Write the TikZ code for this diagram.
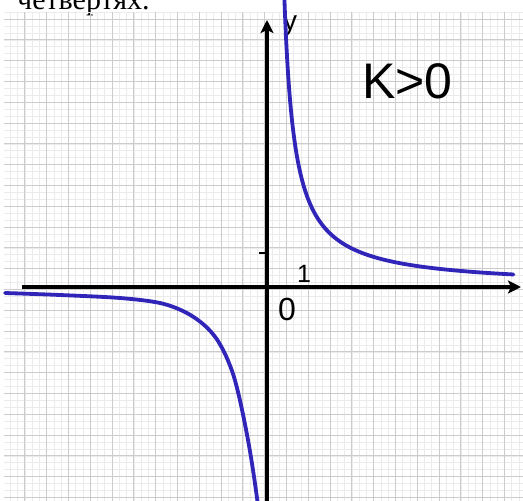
\documentclass[tikz,border=0pt]{standalone}
\usepackage{fontspec}
\setmainfont{Liberation Serif}
\newfontfamily\arialf{Liberation Sans}
\usetikzlibrary{arrows.meta}
\definecolor{curveblue}{RGB}{48,36,185}
\begin{document}
\begin{tikzpicture}[x=1pt,y=-1pt,
  axis/.style={line width=3.5pt, -{Stealth[length=13pt,width=13pt,inset=3pt]}},
  hyp/.style={curveblue, line width=3.8pt, line cap=round},
  minorgrid/.style={black!8, line width=0.6pt},
  majorgrid/.style={black!20, line width=1pt},
  lab/.style={font=\arialf, inner sep=0pt}]
\useasboundingbox (0,0) rectangle (523,501);
\clip (0,0) rectangle (523,501);
\fill[white] (0,0) rectangle (523,501);
\node[anchor=base west, inner sep=0pt, font=\fontsize{30}{30}\selectfont] (title) at (17,9) {четвертях.};
% grid
\begin{scope}
  \clip (4,12) rectangle (523,501);
  \foreach \i in {0,...,72} { \draw[minorgrid] ({3+\i*21.8/3},12) -- ({3+\i*21.8/3},501); }
  \foreach \j in {-1,...,71} { \draw[minorgrid] (4,{19+\j*20.8/3}) -- (523,{19+\j*20.8/3}); }
  \foreach \i in {0,...,24} { \draw[majorgrid] ({3+\i*21.8},12) -- ({3+\i*21.8},501); }
  \foreach \j in {0,...,23} { \draw[majorgrid] (4,{19+\j*20.8}) -- (523,{19+\j*20.8}); }
\end{scope}
% axes
\coordinate (xs) at (22,287);
\coordinate (xe) at (521,287);
\coordinate (ys) at (267,512);
\coordinate (ye) at (267,20);
\draw[axis] (xs) -- (xe);
\draw[axis] (ys) -- (ye);
\coordinate (t1) at (259,253);
\coordinate (t2) at (267,253);
\draw[line width=1.2pt] (t1) -- (t2);
% labels
\node[lab, anchor=base west, font=\arialf\fontsize{50}{50}\selectfont] (k) at (362,98) {K>0};
\node[lab, anchor=base west, font=\arialf\fontsize{25}{25}\selectfont] (one) at (297,282) {1};
\node[lab, anchor=base west, font=\arialf\fontsize{32}{32}\selectfont] (zero) at (278,320) {0};
\node[lab, anchor=base west, font=\arialf\fontsize{28}{28}\selectfont] (ylab) at (283,30) {y};
% hyperbola
\draw[hyp] plot[domain=2.25:5.48, samples=150, smooth] ({274+exp(\x)}, {287-3000/exp(\x)});
\draw[hyp] plot[smooth, tension=0.55] coordinates {(5,293) (60,295) (120,298) (160,303) (185,312) (203,324) (216,338) (226,356) (234,377) (241,405) (248,440) (253,470) (258,505)};
\end{tikzpicture}
\end{document}
